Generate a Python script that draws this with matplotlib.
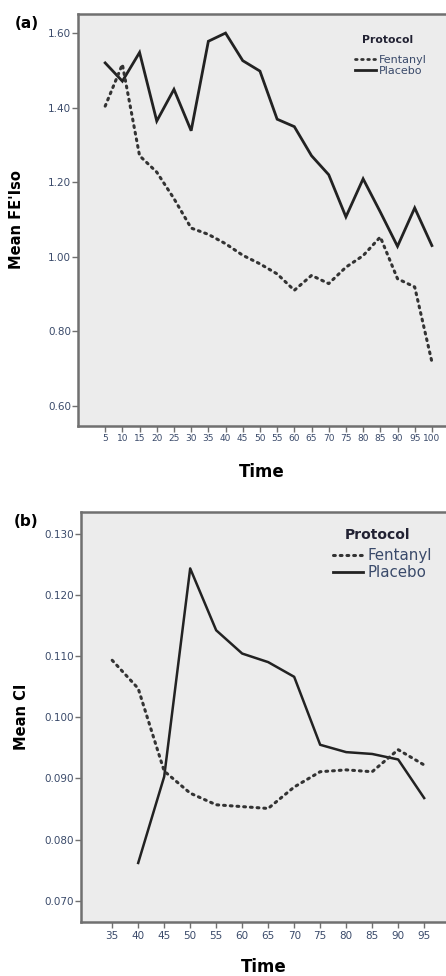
import matplotlib.pyplot as plt
import numpy as np
from matplotlib.lines import Line2D

## -- panel (a) data: Mean FE'Iso
time_a = [5, 10, 15, 20, 25, 30, 35, 40, 45, 50, 55, 60, 65, 70, 75, 80, 85, 90, 95, 100]
fent_a = [1.404, 1.516, 1.271, 1.227, 1.156, 1.077, 1.060, 1.035, 1.004, 0.981,
          0.954, 0.910, 0.950, 0.928, 0.972, 1.003, 1.053, 0.941, 0.919, 0.718]
plac_a = [1.520, 1.471, 1.548, 1.364, 1.449, 1.338, 1.578, 1.600, 1.526, 1.498,
          1.369, 1.349, 1.271, 1.220, 1.107, 1.209, 1.120, 1.028, 1.131, 1.030]
yticks_a = [0.60, 0.80, 1.00, 1.20, 1.40, 1.60]

## -- panel (b) data: Mean CI
time_b = [35, 40, 45, 50, 55, 60, 65, 70, 75, 80, 85, 90, 95]
fent_b = [0.1093, 0.1047, 0.0912, 0.0876, 0.0857, 0.0854, 0.0851, 0.0886,
          0.0911, 0.0914, 0.0911, 0.0947, 0.0922]
time_b_plac = [40, 45, 50, 55, 60, 65, 70, 75, 80, 85, 90, 95]
plac_b = [0.0762, 0.0903, 0.1243, 0.1142, 0.1104, 0.1090, 0.1066, 0.0955,
          0.0943, 0.0940, 0.0931, 0.0868]
yticks_b = [0.070, 0.080, 0.090, 0.100, 0.110, 0.120, 0.130]

series = ['Fentanyl', 'Placebo']

BG = '#ececec'
SP = '#707070'
TK = '#3a4a6a'
DOT = (0, (0.6, 1.6))

fig = plt.figure(figsize=(4.46, 9.76), dpi=100)
ax1 = fig.add_axes([0.1749, 0.5635, 0.8251, 0.4221])
ax2 = fig.add_axes([0.1816, 0.0556, 0.8184, 0.4197])

def style_ax(ax, fs):
  ax.set_facecolor(BG)
  for s in ['left', 'top', 'bottom']:
    ax.spines[s].set_color(SP)
    ax.spines[s].set_linewidth(1.8)
  ax.spines['right'].set_visible(False)
  ax.tick_params(axis='both', direction='out', length=4, width=1, color=SP,
                 labelsize=fs, labelcolor=TK, pad=1)

## -- legend with a detached "Protocol" heading
def add_legend(ax, lw_dot, anchor, title_xy, fs, tfs, hl, ls):
  hh = [Line2D([], [], color='#333333', lw=lw_dot, ls=DOT, dash_capstyle='round'),
        Line2D([], [], color='#222222', lw=2.0)]
  leg = ax.legend(hh, series, loc='upper left', bbox_to_anchor=anchor,
                  frameon=False, fontsize=fs, handlelength=hl, handletextpad=0.3,
                  labelspacing=ls, borderaxespad=0.0, borderpad=0.0)
  for t in leg.get_texts():
    t.set_color(TK)
  ax.text(title_xy[0], title_xy[1], 'Protocol', transform=ax.transAxes,
          fontsize=tfs, fontweight='bold', color='#222233', ha='center', va='center')

## -- panel (a)
ax1.plot(time_a, plac_a, color='#222222', lw=2.0, ls='-', solid_joinstyle='miter')
ax1.plot(time_a, fent_a, color='#333333', lw=2.2, ls=DOT, dash_capstyle='round')
ax1.set_xlim(-2.9, 104.1)
ax1.set_ylim(0.546, 1.651)
ax1.set_xticks(time_a)
ax1.set_xticklabels([str(t) for t in time_a])
ax1.set_yticks(yticks_a)
ax1.set_yticklabels(['%.2f' % v for v in yticks_a])
style_ax(ax1, 7.5)
ax1.tick_params(axis='x', labelsize=6.5, pad=2)
ax1.set_xlabel('Time', fontsize=12, fontweight='bold', labelpad=14)
ax1.set_ylabel("Mean FE'Iso", fontsize=10.5, fontweight='bold', labelpad=17)
fig.text(0.032, 0.9764, '(a)', fontsize=11, fontweight='bold', ha='left', va='center')
add_legend(ax1, 2.0, (0.752, 0.9), (0.84, 0.937), 8, 7.8, 1.9, 0.1)

## -- panel (b)
ax2.plot(time_b_plac, plac_b, color='#222222', lw=1.8, ls='-')
ax2.plot(time_b, fent_b, color='#333333', lw=2.2, ls=DOT, dash_capstyle='round')
ax2.set_xlim(29.0, 99.2)
ax2.set_ylim(0.0666, 0.1335)
ax2.set_xticks(time_b)
ax2.set_xticklabels([str(t) for t in time_b])
ax2.set_yticks(yticks_b)
ax2.set_yticklabels(['%.3f' % v for v in yticks_b])
style_ax(ax2, 7.5)
ax2.tick_params(axis='x', labelsize=7.5, pad=3)
ax2.set_xlabel('Time', fontsize=12, fontweight='bold', labelpad=12)
ax2.set_ylabel('Mean CI', fontsize=10.5, fontweight='bold', labelpad=11)
fig.text(0.03, 0.4652, '(b)', fontsize=11, fontweight='bold', ha='left', va='center')
add_legend(ax2, 2.2, (0.69, 0.912), (0.811, 0.944), 10.8, 10, 2.0, 0.12)

fig.savefig('out.png', dpi=100, facecolor='white')
